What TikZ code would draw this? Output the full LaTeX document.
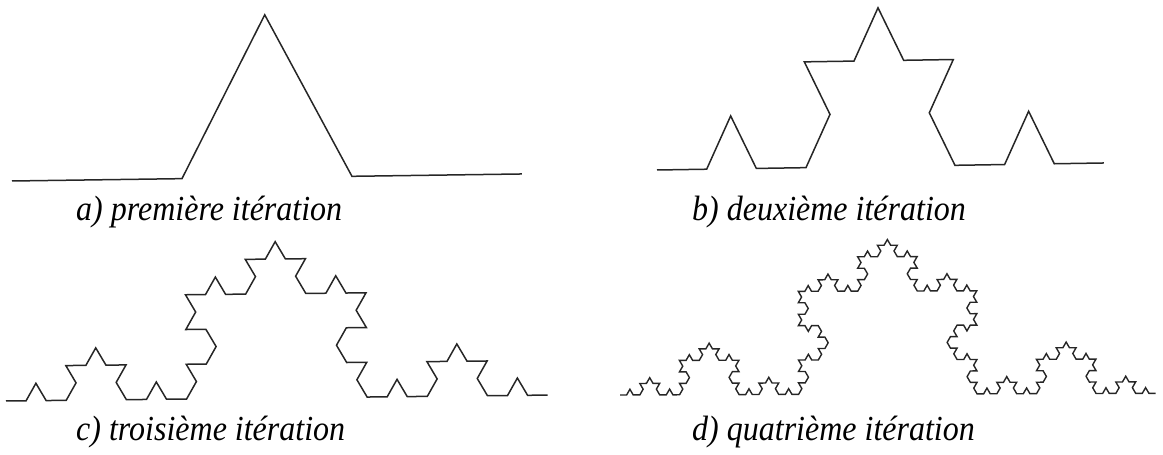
\documentclass[tikz,border=0pt]{standalone}
\usepackage{fontspec}
\setmainfont{Liberation Serif}
\usetikzlibrary{lindenmayersystems}
\pgfdeclarelindenmayersystem{kochup}{\rule{F -> F+F--F+F}}
\tikzset{
  kochline/.style={draw=black!85, line width=1.5pt, line join=miter},
  caption/.style={anchor=base west, inner sep=0pt, yscale=1.1, transform shape, font=\fontsize{32}{38}\selectfont\itshape}
}
\begin{document}
\begin{tikzpicture}[x=1pt,y=1pt]
\useasboundingbox (0,0) rectangle (1163,455);
% a) first iteration
\begin{scope}[shift={(12,274)}, rotate=0.79, yscale=1.105]
  \draw[kochline, l-system={kochup, axiom=F, order=1, step=170pt, angle=60}] (0,0) l-system;
\end{scope}
% b) second iteration
\begin{scope}[shift={(657,285)}, rotate=0.9, yscale=1.23]
  \draw[kochline, l-system={kochup, axiom=F, order=2, step=49.67pt, angle=60}] (0,0) l-system;
\end{scope}
% c) third iteration
\begin{scope}[shift={(6,54)}, rotate=0.63]
  \draw[kochline, l-system={kochup, axiom=F, order=3, step=20.07pt, angle=60}] (0,0) l-system;
\end{scope}
% d) fourth iteration
\begin{scope}[shift={(620,60)}, rotate=0.2]
  \draw[kochline, line width=1.4pt, l-system={kochup, axiom=F, order=4, step=6.617pt, angle=60}] (0,0) l-system;
\end{scope}
\node[caption] (la) at (76,234) {a) première itération};
\node[caption] (lb) at (692,234) {b) deuxième itération};
\node[caption] (lc) at (76,14) {c) troisième itération};
\node[caption] (ld) at (692,14) {d) quatrième itération};
\end{tikzpicture}
\end{document}
